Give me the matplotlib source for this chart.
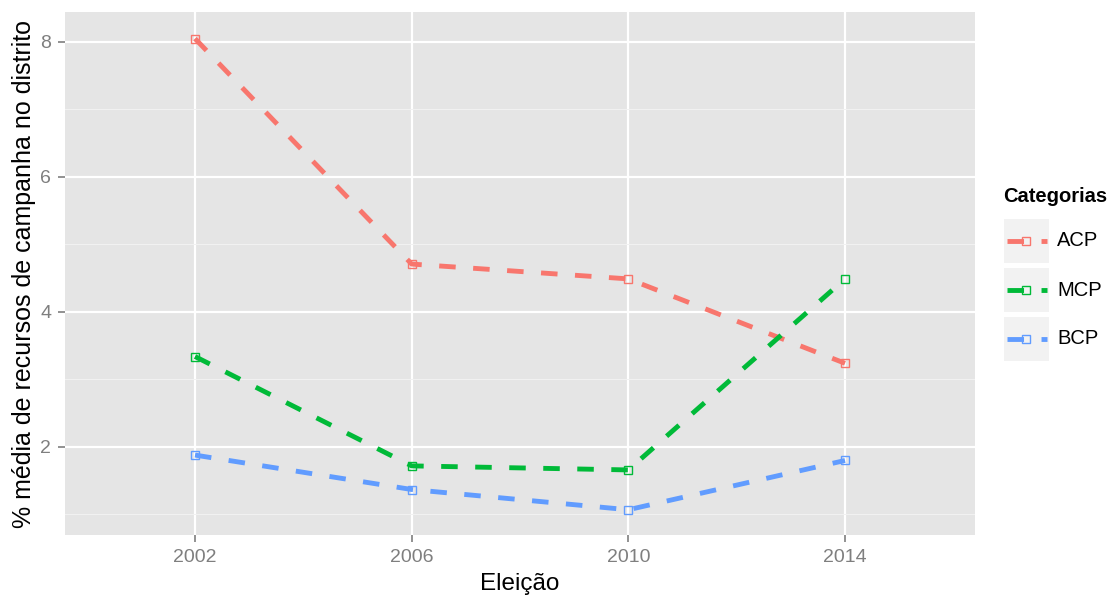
import numpy as np
import matplotlib.pyplot as plt
from matplotlib.patches import Rectangle
from matplotlib.lines import Line2D

plt.rcParams['font.family'] = ['Liberation Sans', 'DejaVu Sans']

anos = ['2002', '2006', '2010', '2014']
acp = [8.05, 4.71, 4.49, 3.24]
mcp = [3.34, 1.72, 1.66, 4.49]
bcp = [1.88, 1.37, 1.07, 1.80]

series = [('ACP', acp, '#F8766D'), ('MCP', mcp, '#00BA38'), ('BCP', bcp, '#619CFF')]

W, H = 1113, 596
fig = plt.figure(figsize=(W / 100, H / 100), dpi=100)
ax = fig.add_axes([65 / W, (H - 535) / H, 910 / W, 523 / H])
ax.set_facecolor('#E5E5E5')

x = np.arange(1, len(anos) + 1)
for nome, vals, cor in series:
    ax.plot(x, vals, color=cor, lw=3.5, dashes=(3.4, 3.6), dash_capstyle='butt',
            marker='s', ms=6.2, mfc='none', mec=cor, mew=1.0, zorder=3)

ax.set_xlim(0.4, 4.6)
ax.set_ylim(0.696, 8.444)
ax.set_xticks(x)
ax.set_xticklabels(anos)
ax.set_yticks([2, 4, 6, 8])
ax.set_yticks([1, 3, 5, 7], minor=True)
ax.grid(True, which='major', color='white', lw=1.6)
ax.grid(True, which='minor', axis='y', color='#F2F2F2', lw=0.7)
ax.set_axisbelow(True)
for s in ax.spines.values():
    s.set_visible(False)
ax.tick_params(axis='both', which='major', colors='#7F7F7F', labelsize=14, length=5, width=1.2, pad=5)
ax.tick_params(axis='y', which='minor', length=0)
for lab in ax.get_xticklabels() + ax.get_yticklabels():
    lab.set_color('#7F7F7F')

ax.set_xlabel('Eleição', fontsize=17.5, labelpad=5)
ax.set_ylabel('% média de recursos de campanha no distrito', fontsize=18, labelpad=3)

# legenda
fig.text(1003 / W, 1 - 197 / H, 'Categorias', fontsize=14.5, fontweight='bold', va='center', ha='left')
for i, (nome, vals, cor) in enumerate(series):
    yc = 241 + i * 49
    fig.patches.append(Rectangle((1004 / W, 1 - (yc + 22) / H), 45 / W, 44 / H,
                                 transform=fig.transFigure, facecolor='#F2F2F2', edgecolor='none'))
    fig.lines.append(Line2D([1007 / W, 1047 / W], [1 - yc / H] * 2, transform=fig.transFigure,
                            color=cor, lw=3.5, dashes=(3.4, 3.6), dash_capstyle='butt'))
    fig.lines.append(Line2D([1026 / W], [1 - yc / H], transform=fig.transFigure, color=cor,
                            marker='s', ms=5.5, mfc='none', mec=cor, mew=1.0))
    fig.text(1057 / W, 1 - yc / H, nome, fontsize=14.5, va='center', ha='left')

fig.savefig('out.png', dpi=100)
